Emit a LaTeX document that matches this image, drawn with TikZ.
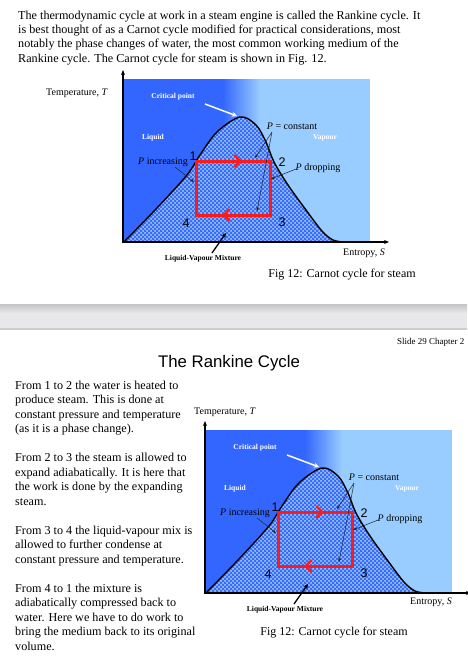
\documentclass[tikz,border=0pt]{standalone}
\usepackage{fontspec}
\setmainfont{Liberation Serif}
\newfontfamily\arialfont{Liberation Sans}
\usetikzlibrary{patterns,arrows.meta}
\pgfdeclarepatternformonly{finecheck}{\pgfqpoint{-0.05pt}{-0.05pt}}{\pgfqpoint{4.05pt}{4.05pt}}{\pgfqpoint{4pt}{4pt}}{%
  \pgfpathrectangle{\pgfpointorigin}{\pgfqpoint{2.05pt}{2.05pt}}%
  \pgfpathrectangle{\pgfqpoint{2pt}{2pt}}{\pgfqpoint{2.05pt}{2.05pt}}%
  \pgfusepath{fill}}
\definecolor{dkblue}{HTML}{3366FF}
\definecolor{ltblue}{HTML}{99CCFF}
\definecolor{chkdark}{HTML}{3A6CF5}
\definecolor{chklight}{HTML}{8CB8FF}
\definecolor{redc}{HTML}{FF1A1A}
\definecolor{sepdark}{HTML}{C6C4C4}
\definecolor{seplight}{HTML}{E8E8EA}
\definecolor{sepline}{HTML}{CDCDCD}
\tikzset{
  body/.style={anchor=base west, inner sep=0pt, font=\fontsize{12.15}{14}\selectfont},
  lbl/.style={inner sep=0pt, font=\fontsize{10}{12}\selectfont},
  figcap/.style={inner sep=0pt, font=\fontsize{12}{14}\selectfont},
  tinyw/.style={inner sep=0pt, font=\bfseries\fontsize{7.5}{9}\selectfont, text=white},
  tinyb/.style={inner sep=0pt, font=\bfseries\fontsize{7.5}{9}\selectfont, text=black},
  num/.style={inner sep=0pt, font=\arialfont\fontsize{12.5}{14}\selectfont},
  ann/.style={draw=black!85, line width=0.5pt, -{Stealth[length=4pt,width=3pt]}},
  annthick/.style={draw=black, line width=1.3pt, -{Stealth[length=5pt,width=5pt]}},
  critarr/.style={draw=white, line width=1.5pt, -{Stealth[length=5pt,width=5pt]}},
  axisline/.style={draw=black, line width=1.4pt, -{Stealth[length=5pt,width=4pt]}},
  cyc/.style={draw=redc, line width=3pt},
  cycarr/.style={draw=redc, line width=2.4pt, -{Straight Barb[length=6pt,width=12pt]}},
  domeline/.style={draw=black, line width=1.4pt},
}
\newcommand\domecurve{plot[smooth,tension=0.55] coordinates {(124,242) (157,208) (187,175) (200,155) (217,132) (240,117) (256,125) (266,142) (274,162) (288,185) (306,210) (322,231) (333,240) (344,242)}}
\newcommand\carnotfig[1]{%
  \fill[dkblue] (124,79) rectangle (223.5,242);
  \shade[left color=dkblue, right color=ltblue] (223,79) rectangle (260,242);
  \fill[ltblue] (259.5,79) rectangle (370,242);
  \fill[chklight] \domecurve -- cycle;
  \fill[pattern=finecheck, pattern color=chkdark] \domecurve -- cycle;
  \draw[domeline] \domecurve;
  \draw[axisline] (123,242.5) -- (123,70);
  \draw[axisline] (122.3,242) -- (389,242);
  \draw[cyc] (196,161) rectangle (270,215);
  \draw[cycarr] (226,161) -- (242,161);
  \draw[cycarr] (238,215) -- (222,215);
  \node[tinyw] (#1crit) at (173,97) {Critical point};
  \node[tinyw] (#1liq) at (153,138) {Liquid};
  \node[tinyw] (#1vap) at (325,138) {Vapour};
  \node[lbl] (#1pconst) at (292,126) {\textit{P} = constant};
  \node[lbl] (#1pinc) at (163,162) {\textit{P} increasing};
  \node[lbl] (#1pdrop) at (318,168) {\textit{P} dropping};
  \node[num] (#1n1) at (193,156) {1};
  \node[num] (#1n2) at (282,162) {2};
  \node[num] (#1n3) at (282,222) {3};
  \node[num] (#1n4) at (186,223) {4};
  \node[tinyb] (#1mix) at (203,259) {Liquid-Vapour Mixture};
  \coordinate (#1critS) at (205,104);
  \coordinate (#1critE) at (237,116);
  \coordinate (#1pincS) at (175,167);
  \coordinate (#1pincE) at (194,182);
  \coordinate (#1pcS) at (272,132);
  \coordinate (#1pcE1) at (255,158);
  \coordinate (#1pcE2) at (257,211);
  \coordinate (#1pdS) at (296,169);
  \coordinate (#1pdE) at (271,179);
  \coordinate (#1mixS) at (212,253);
  \coordinate (#1mixE) at (226,233);
  \draw[critarr] (#1critS) -- (#1critE);
  \draw[ann] (#1pincS) -- (#1pincE);
  \draw[ann] (#1pcS) -- (#1pcE1);
  \draw[ann] (#1pcS) -- (#1pcE2);
  \draw[ann] (#1pdS) -- (#1pdE);
  \draw[annthick] (#1mixS) -- (#1mixE);
}
\begin{document}
\begin{tikzpicture}[x=1pt,y=-1pt]
\useasboundingbox (0,0) rectangle (467,656);
\fill[white] (0,0) rectangle (467,656);
% top paragraph
\foreach \t [count=\i from 0] in {{The thermodynamic cycle at work in a steam engine is called the Rankine cycle. It},
  {is best thought of as a Carnot cycle modified for practical considerations, most},
  {notably the phase changes of water, the most common working medium of the},
  {Rankine cycle. The Carnot cycle for steam is shown in Fig. 12.}}
  \node[body] (top\i) at (18,19+14.4*\i) {\t};
% top figure
\carnotfig{t}
\node[lbl] (tTemp) at (77,93) {Temperature, \textit{T}};
\node[lbl] (tEnt) at (364,253) {Entropy, \textit{S}};
\node[figcap] (tCap) at (342,275) {Fig 12: Carnot cycle for steam};
% separator
\shade[top color=sepdark, bottom color=seplight] (0,304) rectangle (467,313);
\fill[seplight] (0,313) rectangle (467,327.5);
\fill[sepline] (0,327.5) rectangle (467,329.5);
% slide
\node[anchor=base west, inner sep=0pt, font=\fontsize{9}{11}\selectfont] (slide) at (397,344) {Slide 29 Chapter 2};
\node[anchor=base, inner sep=0pt, font=\arialfont\fontsize{16.8}{20}\selectfont] (title) at (229,367) {The Rankine Cycle};
\foreach \t [count=\i from 0] in {{From 1 to 2 the water is heated to},
  {produce steam. This is done at},
  {constant pressure and temperature},
  {(as it is a phase change).},
  {},
  {From 2 to 3 the steam is allowed to},
  {expand adiabatically. It is here that},
  {the work is done by the expanding},
  {steam.},
  {},
  {From 3 to 4 the liquid-vapour mix is},
  {allowed to further condense at},
  {constant pressure and temperature.},
  {},
  {From 4 to 1 the mixture is},
  {adiabatically compressed back to},
  {water. Here we have to do work to},
  {bring the medium back to its original},
  {volume.}}
  \node[body] (left\i) at (15,389+14.5*\i) {\t};
\begin{scope}[xshift=82pt,yshift=-351pt]
\carnotfig{b}
\end{scope}
\node[lbl] (bTemp) at (225,412) {Temperature, \textit{T}};
\node[lbl] (bEnt) at (431,602) {Entropy, \textit{S}};
\node[figcap] (bCap) at (334,633) {Fig 12: Carnot cycle for steam};
\end{tikzpicture}
\end{document}
